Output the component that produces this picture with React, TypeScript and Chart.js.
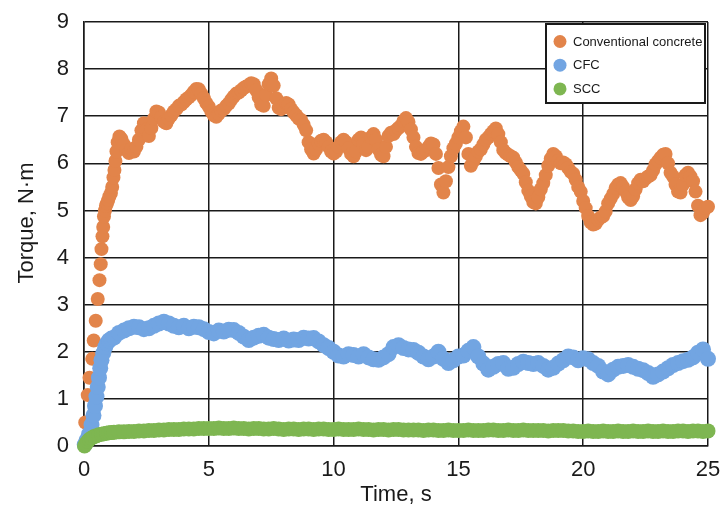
import React, { useEffect, useRef } from "react";
import { Chart, registerables } from "chart.js";

Chart.register(...registerables);

const FONT = "'Liberation Sans', Arial, sans-serif";

const SERIES_LABELS = ["Conventional concrete", "CFC", "SCC"];
const SERIES_COLORS = ["#E2844A", "#72A5E2", "#7EB651"];
const X_TITLE = "Time, s";
const Y_TITLE = "Torque, N·m";

// Conventional concrete: initial rise (explicit times), then samples every 0.1 s from 1.5 s
const orangeRiseTime = [0.05, 0.15, 0.22, 0.33, 0.39, 0.47, 0.55, 0.62, 0.67, 0.7, 0.74, 0.77, 0.8, 0.84, 0.88, 0.92, 0.97, 1.02, 1.08, 1.13, 1.18, 1.22, 1.26, 1.3, 1.35, 1.42];
const orangeRiseTorque = [0.5, 1.08, 1.45, 1.85, 2.24, 2.66, 3.12, 3.52, 3.86, 4.18, 4.45, 4.65, 4.87, 5.0, 5.1, 5.15, 5.22, 5.3, 5.37, 5.5, 5.7, 5.86, 6.05, 6.25, 6.45, 6.57];
const orangeStart = 1.5;
const orangeStep = 0.1;
const orangeTorque = [
  6.52, 6.40, 6.28, 6.22, 6.30,
  6.25, 6.35, 6.50, 6.70, 6.85, 6.72, 6.58, 6.75, 6.95, 7.10,
  7.08, 6.98, 6.88, 6.85, 6.95, 7.02, 7.10, 7.15, 7.22, 7.25,
  7.30, 7.36, 7.40, 7.45, 7.52, 7.58, 7.57, 7.48, 7.38, 7.28,
  7.20, 7.10, 7.02, 6.99, 7.05, 7.12, 7.15, 7.22, 7.27, 7.35,
  7.42, 7.48, 7.50, 7.55, 7.60, 7.63, 7.66, 7.70, 7.68, 7.55,
  7.40, 7.25, 7.22, 7.45, 7.68, 7.80, 7.65, 7.38, 7.18, 7.15,
  7.22, 7.28, 7.25, 7.15, 7.08, 7.02, 6.95, 6.92, 6.82, 6.70,
  6.45, 6.30, 6.21, 6.30, 6.42, 6.48, 6.50, 6.45, 6.35, 6.25,
  6.21, 6.25, 6.35, 6.45, 6.50, 6.45, 6.32, 6.20, 6.15, 6.25,
  6.50, 6.55, 6.40, 6.28, 6.35, 6.55, 6.62, 6.50, 6.30, 6.18,
  6.15, 6.35, 6.58, 6.65, 6.62, 6.70, 6.75, 6.80, 6.90, 6.96,
  6.88, 6.72, 6.55, 6.35, 6.22, 6.20, 6.25, 6.28, 6.35, 6.42,
  6.40, 6.20, 5.90, 5.55, 5.38, 5.62, 5.92, 6.15, 6.32, 6.42,
  6.55, 6.68, 6.78, 6.55, 6.20, 5.95, 6.05, 6.15, 6.25, 6.30,
  6.40, 6.50, 6.55, 6.62, 6.68, 6.74, 6.62, 6.45, 6.28, 6.22,
  6.18, 6.15, 6.12, 6.02, 5.92, 5.85, 5.78, 5.60, 5.42, 5.30,
  5.18, 5.15, 5.28, 5.45, 5.58, 5.75, 5.95, 6.10, 6.20, 6.15,
  6.05, 6.00, 6.02, 5.98, 5.90, 5.82, 5.78, 5.65, 5.50, 5.40,
  5.20, 5.05, 4.88, 4.75, 4.70, 4.72, 4.80, 4.85, 4.88, 4.98,
  5.15, 5.25, 5.35, 5.48, 5.55, 5.58, 5.50, 5.40, 5.28, 5.22,
  5.30, 5.45, 5.58, 5.65, 5.62, 5.68, 5.72, 5.75, 5.85, 5.98,
  6.05, 6.12, 6.18, 6.20, 6.00, 5.80, 5.72, 5.55, 5.40, 5.38,
  5.55, 5.75, 5.80, 5.72, 5.62, 5.40, 5.10, 4.90, 4.95, 5.05,
  5.08,
];

// CFC: initial rise, then samples every 0.2 s from 1.2 s
const blueRiseTime = [0.03, 0.1, 0.2, 0.3, 0.38, 0.44, 0.5, 0.55, 0.6, 0.65, 0.7, 0.77, 0.85, 0.92, 1.0, 1.1];
const blueRiseTorque = [0.03, 0.12, 0.25, 0.45, 0.65, 0.85, 1.05, 1.25, 1.45, 1.65, 1.82, 1.97, 2.1, 2.18, 2.24, 2.28];
const blueStart = 1.2;
const blueStep = 0.2;
const blueTorque = [
  2.30, 2.40, 2.45, 2.50, 2.53,
  2.52, 2.48, 2.50, 2.55, 2.60,
  2.64, 2.60, 2.55, 2.52, 2.55,
  2.50, 2.53, 2.52, 2.48, 2.42,
  2.39, 2.45, 2.43, 2.47, 2.46,
  2.40, 2.32, 2.25, 2.30, 2.34,
  2.36, 2.30, 2.27, 2.25, 2.28,
  2.24, 2.26, 2.25, 2.30, 2.28,
  2.29, 2.22, 2.14, 2.08, 2.00,
  1.92, 1.90, 1.95, 1.93, 1.90,
  1.95, 1.88, 1.84, 1.83, 1.88,
  1.95, 2.10, 2.14, 2.08, 2.05,
  2.04, 1.98, 1.90, 1.84, 1.90,
  2.00, 1.85, 1.76, 1.82, 1.90,
  1.92, 2.02, 2.10, 1.90, 1.75,
  1.62, 1.68, 1.74, 1.76, 1.64,
  1.66, 1.74, 1.79, 1.76, 1.74,
  1.76, 1.70, 1.62, 1.66, 1.75,
  1.82, 1.90, 1.88, 1.82, 1.86,
  1.84, 1.76, 1.70, 1.58, 1.52,
  1.62, 1.68, 1.70, 1.72, 1.68,
  1.64, 1.61, 1.55, 1.47, 1.52,
  1.58, 1.65, 1.72, 1.76, 1.80,
  1.83, 1.88, 1.98, 2.05, 1.85,
];

// SCC: initial rise, then samples every 0.2 s from 1.2 s
const greenRiseTime = [0.02, 0.08, 0.15, 0.22, 0.3, 0.4, 0.5, 0.6, 0.7, 0.8, 0.9, 1.0, 1.1];
const greenRiseTorque = [0.0, 0.05, 0.1, 0.14, 0.17, 0.2, 0.22, 0.24, 0.25, 0.26, 0.27, 0.28, 0.285];
const greenStart = 1.2;
const greenStep = 0.2;
const greenTorque = [
  0.29, 0.30, 0.30, 0.31, 0.31,
  0.32, 0.32, 0.33, 0.33, 0.34,
  0.34, 0.35, 0.35, 0.35, 0.36,
  0.36, 0.36, 0.37, 0.37, 0.37,
  0.37, 0.38, 0.37, 0.37, 0.38,
  0.37, 0.37, 0.36, 0.37, 0.37,
  0.36, 0.36, 0.37, 0.36, 0.35,
  0.36, 0.36, 0.35, 0.36, 0.36,
  0.35, 0.36, 0.36, 0.35, 0.35,
  0.36, 0.35, 0.35, 0.35, 0.36,
  0.35, 0.35, 0.34, 0.35, 0.35,
  0.34, 0.35, 0.35, 0.34, 0.34,
  0.34, 0.34, 0.33, 0.34, 0.34,
  0.33, 0.33, 0.34, 0.33, 0.33,
  0.33, 0.34, 0.33, 0.33, 0.33,
  0.34, 0.34, 0.33, 0.33, 0.34,
  0.33, 0.33, 0.34, 0.33, 0.33,
  0.33, 0.33, 0.32, 0.33, 0.33,
  0.33, 0.32, 0.32, 0.31, 0.31,
  0.32, 0.31, 0.31, 0.32, 0.31,
  0.31, 0.32, 0.31, 0.31, 0.32,
  0.31, 0.31, 0.32, 0.31, 0.31,
  0.32, 0.31, 0.31, 0.32, 0.32,
  0.31, 0.32, 0.32, 0.31, 0.32,
];

const X_MIN = 0, X_MAX = 25, X_STEP = 5;
const Y_MIN = 0, Y_MAX = 9, Y_STEP = 1;

function buildPoints(riseT: number[], riseV: number[], start: number, step: number, vals: number[]) {
  const pts = riseT.map((t, i) => ({ x: t, y: riseV[i] }));
  vals.forEach((v, i) => pts.push({ x: Math.round((start + step * i) * 100) / 100, y: v }));
  return pts;
}

const boxLegend = {
  id: "boxLegend",
  afterDraw(chart: any) {
    const { ctx, chartArea } = chart;
    const w = 159, h = 79;
    const left = chartArea.right - 162;
    const top = chartArea.top + 2;
    ctx.save();
    ctx.fillStyle = "#ffffff";
    ctx.fillRect(left, top, w, h);
    ctx.strokeStyle = "#1a1a1a";
    ctx.lineWidth = 2;
    ctx.strokeRect(left, top, w, h);
    ctx.font = `13px ${FONT}`;
    ctx.textBaseline = "middle";
    ctx.textAlign = "left";
    chart.data.datasets.forEach((ds: any, i: number) => {
      const cy = top + 17.5 + i * 23.7;
      ctx.beginPath();
      ctx.fillStyle = ds.backgroundColor;
      ctx.arc(left + 14, cy, 6.5, 0, Math.PI * 2);
      ctx.fill();
      ctx.fillStyle = "#1a1a1a";
      ctx.fillText(ds.label, left + 27, cy + 0.5);
    });
    ctx.restore();
  },
};

// y-axis title, placed slightly above the plot's vertical centre as in the reference
const yTitlePlugin = {
  id: "yTitle",
  afterDraw(chart: any) {
    const { ctx, chartArea } = chart;
    ctx.save();
    ctx.translate(27, (chartArea.top + chartArea.bottom) / 2 - 11);
    ctx.rotate(-Math.PI / 2);
    ctx.font = `22px ${FONT}`;
    ctx.fillStyle = "#1a1a1a";
    ctx.textAlign = "center";
    ctx.textBaseline = "middle";
    ctx.fillText(Y_TITLE, 0, 0);
    ctx.restore();
  },
};

function zeroPadding(s: any) {
  s.paddingTop = 0;
  s.paddingBottom = 0;
  s.paddingLeft = 0;
  s.paddingRight = 0;
}

export default function App() {
  const canvasRef = useRef<HTMLCanvasElement | null>(null);

  useEffect(() => {
    if (!canvasRef.current) return;
    const seriesPoints = [
      buildPoints(orangeRiseTime, orangeRiseTorque, orangeStart, orangeStep, orangeTorque),
      buildPoints(blueRiseTime, blueRiseTorque, blueStart, blueStep, blueTorque),
      buildPoints(greenRiseTime, greenRiseTorque, greenStart, greenStep, greenTorque),
    ];
    const orders = [3, 2, 1];
    const radii = [7, 8, 7.5];
    const chart = new Chart(canvasRef.current, {
      type: "scatter",
      data: {
        datasets: seriesPoints.map((pts, i) => ({
          label: SERIES_LABELS[i],
          data: pts,
          backgroundColor: SERIES_COLORS[i],
          borderWidth: 0,
          pointRadius: radii[i],
          pointHoverRadius: radii[i],
          order: orders[i],
          clip: false as any,
        })),
      },
      options: {
        animation: false,
        responsive: true,
        maintainAspectRatio: false,
        layout: { padding: { left: 0, right: 16, top: 22, bottom: 0 } },
        plugins: { legend: { display: false }, tooltip: { enabled: false } },
        scales: {
          x: {
            type: "linear",
            min: X_MIN,
            max: X_MAX,
            ticks: { stepSize: X_STEP, color: "#1a1a1a", font: { family: FONT, size: 22 }, padding: 11, maxRotation: 0 },
            grid: { color: "#1a1a1a", lineWidth: 1.5, drawTicks: false },
            border: { color: "#1a1a1a", width: 1.5 },
            title: { display: true, text: X_TITLE, color: "#1a1a1a", font: { family: FONT, size: 22 }, padding: { top: 0, bottom: 0 } },
            afterFit: (s: any) => { s.height = 62; zeroPadding(s); },
          },
          y: {
            min: Y_MIN,
            max: Y_MAX,
            ticks: { stepSize: Y_STEP, color: "#1a1a1a", font: { family: FONT, size: 22 }, padding: 15 },
            grid: { color: "#1a1a1a", lineWidth: 1.5, drawTicks: false },
            border: { color: "#1a1a1a", width: 1.5 },
            title: { display: false },
            afterFit: (s: any) => { s.width = 84; zeroPadding(s); },
          },
        },
      },
      plugins: [boxLegend, yTitlePlugin],
    });
    return () => chart.destroy();
  }, []);

  return (
    <div style={{ position: "fixed", left: 0, top: 0, width: 724, height: 508 }}>
      <canvas ref={canvasRef} />
    </div>
  );
}
